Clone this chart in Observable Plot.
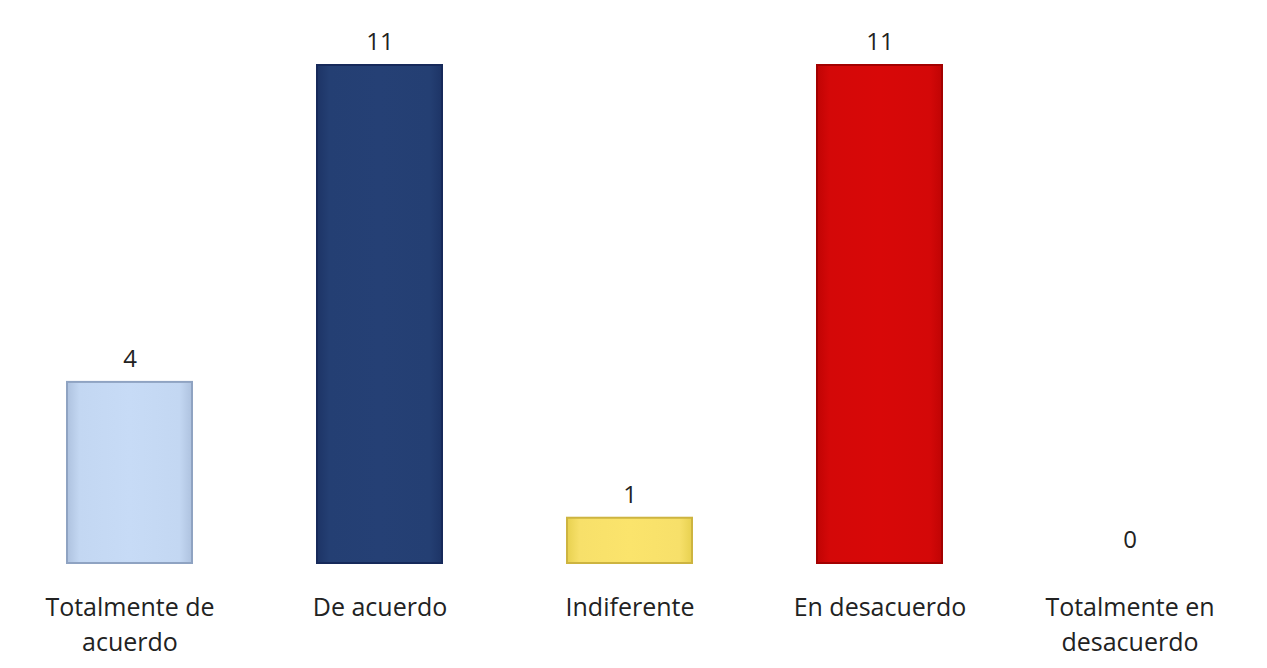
<!DOCTYPE html>
<html>
<head>
<meta charset="utf-8">
<script src="https://cdn.jsdelivr.net/npm/d3@7"></script>
<script src="https://cdn.jsdelivr.net/npm/@observablehq/plot@0.6"></script>
<style>
  html, body { margin: 0; padding: 0; background: #fff; }
  #chart svg { display: block; }
</style>
</head>
<body>
<div id="chart"></div>
<script>
const categories = ["Totalmente de acuerdo", "De acuerdo", "Indiferente", "En desacuerdo", "Totalmente en desacuerdo"];
const tickLabels = ["Totalmente de\nacuerdo", "De acuerdo", "Indiferente", "En desacuerdo", "Totalmente en\ndesacuerdo"];
const values = [4, 11, 1, 11, 0];
const fills = ["#c3d7f2", "#243f73", "#f7e06a", "#d40808", "#ffffff"];
const edges = ["#aec2df", "#1d3466", "#e8d150", "#c00404", "#ffffff"];
const strokes = ["#8fa3c2", "#16295a", "#cdb440", "#a30000", "#ffffff"];

const data = categories.map((c, i) => ({cat: c, value: values[i], idx: i, stroke: strokes[i]}));
const labelOf = new Map(categories.map((c, i) => [c, tickLabels[i]]));

const font = "Open Sans, Lato, sans-serif";

// gradient definitions (a custom render-only mark)
const defsMark = () => {
  const ns = "http://www.w3.org/2000/svg";
  const defs = document.createElementNS(ns, "defs");
  fills.forEach((f, i) => {
    const g = document.createElementNS(ns, "linearGradient");
    g.setAttribute("id", "grad" + i);
    g.setAttribute("x1", "0"); g.setAttribute("x2", "1");
    g.setAttribute("y1", "0"); g.setAttribute("y2", "0");
    [[0, edges[i]], [0.1, f], [0.5, d3.color(f).brighter(0.05).formatHex()], [0.9, f], [1, edges[i]]].forEach(([o, c]) => {
      const s = document.createElementNS(ns, "stop");
      s.setAttribute("offset", o);
      s.setAttribute("stop-color", c);
      g.append(s);
    });
    defs.append(g);
  });
  return defs;
};

const chart = Plot.plot({
  width: 1267,
  height: 668,
  marginTop: 65,
  marginBottom: 105,
  marginLeft: 3,
  marginRight: 11,
  style: {fontFamily: font, color: "#222", background: "#fff"},
  x: {domain: categories, paddingInner: 0.5, paddingOuter: 0.25, axis: null},
  y: {domain: [0, 11], axis: null},
  marks: [
    defsMark,
    Plot.barY(data.filter(d => d.value > 0), {
      x: "cat", y: "value",
      fill: d => `url(#grad${d.idx})`, stroke: d => d.stroke, strokeWidth: 2
    }),
    Plot.text(data, {
      x: "cat", y: "value", text: d => String(d.value),
      dy: -23, fontSize: 24, fill: "#222"
    }),
    Plot.axisX({
      tickSize: 0, tickPadding: 28, fontSize: 25, lineHeight: 1.4,
      tickFormat: d => labelOf.get(d), label: null, fill: "#222"
    })
  ]
});
document.getElementById("chart").append(chart);
</script>
</body>
</html>
